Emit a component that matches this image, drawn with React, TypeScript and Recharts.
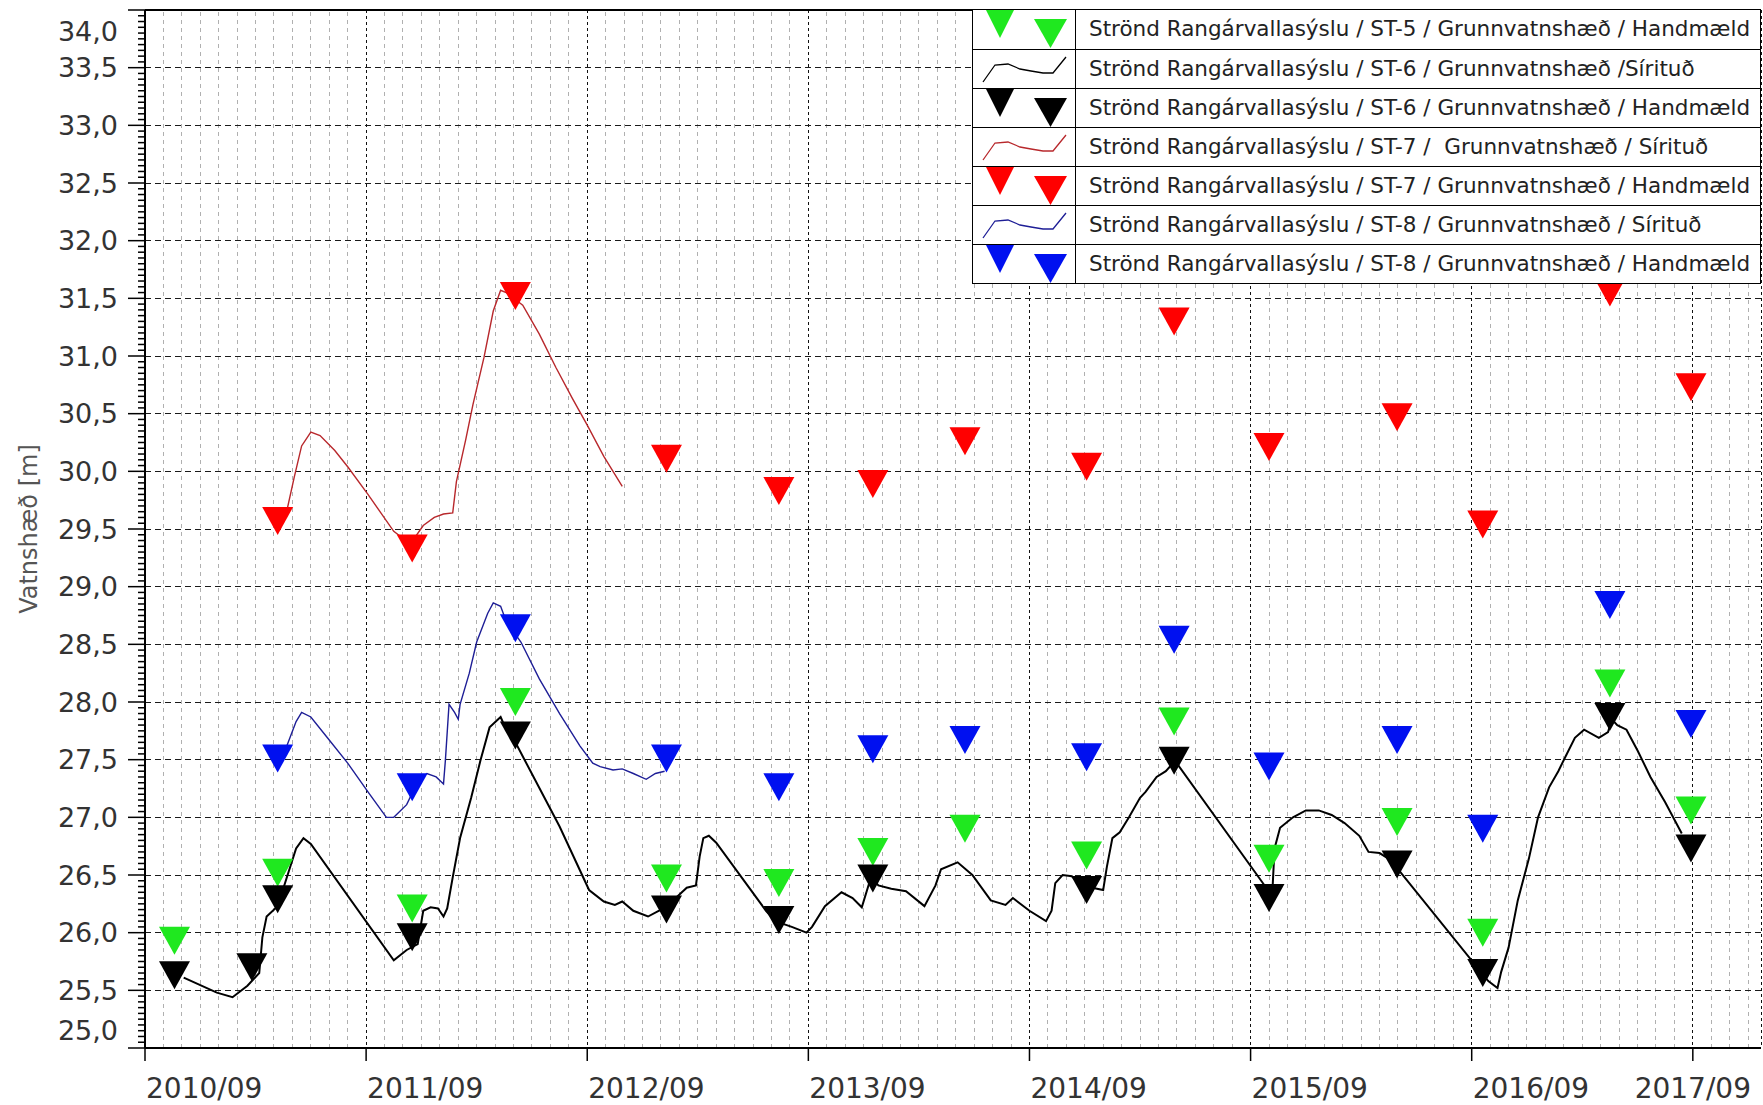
import React from "react"
import {
  ComposedChart,
  Line,
  Scatter,
  XAxis,
  YAxis,
  CartesianGrid,
  ReferenceLine,
  Legend,
} from "recharts"

// x values are months counted from 2010/09
const xTicks = [0, 12, 24, 36, 48, 60, 72, 84]
const xTickLabels = ["2010/09", "2011/09", "2012/09", "2013/09", "2014/09", "2015/09", "2016/09", "2017/09"]
const yMajor = [25, 25.5, 26, 26.5, 27, 27.5, 28, 28.5, 29, 29.5, 30, 30.5, 31, 31.5, 32, 32.5, 33, 33.5, 34]

// Sírituð (logger) series: [month, level]
const st6Logger: [number, number][] = [
  [2.1, 25.61], [3.9, 25.48], [4.75, 25.44], [5.56, 25.54], [6.2, 25.65], [6.37, 25.96],
  [6.6, 26.14], [7.2, 26.23], [7.7, 26.48], [8.2, 26.73], [8.6, 26.82], [9.0, 26.77],
  [13.5, 25.76], [14.2, 25.85], [14.8, 25.9], [15.1, 26.19], [15.5, 26.22], [15.9, 26.21],
  [16.2, 26.14], [16.4, 26.21], [16.7, 26.48], [17.1, 26.82], [17.7, 27.17], [18.2, 27.49],
  [18.7, 27.78], [19.3, 27.87], [19.6, 27.76], [20.2, 27.62], [22.5, 26.92], [24.1, 26.37],
  [24.9, 26.27], [25.5, 26.24], [25.9, 26.27], [26.5, 26.19], [27.3, 26.14], [27.9, 26.19],
  [28.6, 26.27], [29.4, 26.39], [29.9, 26.41], [30.1, 26.66], [30.3, 26.82], [30.6, 26.84],
  [31.0, 26.78], [33.7, 26.19], [34.2, 26.1], [35.1, 26.05], [35.9, 26.0], [36.2, 26.05],
  [36.9, 26.23], [37.8, 26.35], [38.4, 26.3], [38.9, 26.22], [39.4, 26.48], [39.8, 26.41],
  [40.5, 26.38], [41.3, 26.36], [42.3, 26.23], [42.9, 26.41], [43.2, 26.55], [44.1, 26.61],
  [44.9, 26.5], [45.9, 26.28], [46.7, 26.24], [47.1, 26.3], [48.0, 26.19], [48.9, 26.1],
  [49.2, 26.19], [49.4, 26.43], [49.8, 26.5], [50.3, 26.49], [50.7, 26.43], [51.4, 26.39],
  [52.0, 26.37], [52.2, 26.57], [52.5, 26.82], [52.9, 26.87], [53.4, 27.0], [54.0, 27.17],
  [54.3, 27.22], [54.9, 27.35], [55.4, 27.4], [55.9, 27.49], [60.8, 26.4], [61.2, 26.41],
  [61.3, 26.73], [61.6, 26.91], [62.3, 27.0], [63.0, 27.06], [63.7, 27.06], [64.4, 27.02],
  [65.1, 26.95], [65.9, 26.84], [66.4, 26.7], [67.0, 26.69], [67.5, 26.64], [67.9, 26.57],
  [72.9, 25.58], [73.4, 25.52], [73.6, 25.66], [74.0, 25.87], [74.5, 26.28], [75.1, 26.64],
  [75.6, 27.0], [76.2, 27.26], [76.7, 27.4], [77.1, 27.53], [77.6, 27.69], [78.1, 27.76],
  [78.9, 27.69], [79.4, 27.74], [79.6, 27.85], [79.9, 27.8], [80.4, 27.76], [81.0, 27.58],
  [81.7, 27.35], [82.5, 27.13], [83.4, 26.86],
]

const st7Logger: [number, number][] = [
  [7.7, 29.66], [8.1, 29.95], [8.5, 30.22], [9.0, 30.34], [9.5, 30.31], [10.3, 30.18],
  [11.0, 30.04], [12.1, 29.8], [12.8, 29.64], [13.5, 29.48], [14.4, 29.37], [15.1, 29.53],
  [15.7, 29.6], [16.2, 29.63], [16.7, 29.64], [16.9, 29.91], [17.4, 30.27], [17.8, 30.58],
  [18.4, 30.99], [18.9, 31.39], [19.3, 31.57], [19.6, 31.55], [20.5, 31.44], [21.4, 31.19],
  [22.3, 30.9], [23.2, 30.63], [24.0, 30.4], [24.9, 30.13], [25.9, 29.87],
]

const st8Logger: [number, number][] = [
  [7.7, 27.62], [8.2, 27.83], [8.5, 27.91], [9.0, 27.87], [9.9, 27.69], [11.0, 27.47],
  [12.1, 27.22], [13.1, 27.0], [13.5, 27.0], [14.2, 27.11], [14.8, 27.31], [15.3, 27.38],
  [15.8, 27.35], [16.2, 27.29], [16.3, 27.49], [16.5, 27.98], [16.8, 27.91], [17.0, 27.85],
  [17.1, 27.98], [17.6, 28.25], [18.0, 28.52], [18.6, 28.77], [18.9, 28.86], [19.3, 28.83],
  [19.6, 28.7], [20.4, 28.52], [21.4, 28.2], [22.5, 27.9], [23.6, 27.62], [24.3, 27.47],
  [24.7, 27.44], [25.4, 27.41], [25.9, 27.42], [26.5, 27.38], [27.2, 27.33], [27.7, 27.38],
  [28.2, 27.4],
]

// Handmæld (manual) series: [month, level]
const st5Manual: [number, number][] = [
  [1.6, 25.93], [7.2, 26.52], [14.5, 26.21], [20.1, 28.0], [28.3, 26.47], [34.4, 26.43],
  [39.5, 26.7], [44.5, 26.9], [51.1, 26.67], [55.85, 27.83], [61.0, 26.64], [67.95, 26.96],
  [72.6, 26.0], [79.5, 28.16], [83.9, 27.06],
]
const st6Manual: [number, number][] = [
  [1.6, 25.63], [5.8, 25.7], [7.2, 26.29], [14.5, 25.96], [20.1, 27.71], [28.3, 26.2],
  [34.4, 26.11], [39.5, 26.47], [51.1, 26.37], [55.85, 27.49], [61.0, 26.3], [67.95, 26.59],
  [72.6, 25.65], [79.5, 27.87], [83.9, 26.73],
]
const st7Manual: [number, number][] = [
  [7.2, 29.57], [14.5, 29.33], [20.1, 31.52], [28.3, 30.11], [34.4, 29.83], [39.5, 29.89],
  [44.5, 30.26], [51.1, 30.04], [55.85, 31.3], [61.0, 30.21], [67.95, 30.47], [72.6, 29.54],
  [79.5, 31.55], [83.9, 30.73],
]
const st8Manual: [number, number][] = [
  [7.2, 27.51], [14.5, 27.26], [20.1, 28.64], [28.3, 27.51], [34.4, 27.26], [39.5, 27.59],
  [44.5, 27.67], [51.1, 27.52], [55.85, 28.54], [61.0, 27.44], [67.95, 27.67], [72.6, 26.9],
  [79.5, 28.84], [83.9, 27.81],
]

const GREEN = "#1FE81F"
const BLACK = "#000000"
const RED = "#FF0000"
const BLUE = "#0010F0"
const RED_LINE = "#B8282C"
const BLUE_LINE = "#1E1E96"
const FONT = "'DejaVu Sans', Verdana, sans-serif"

const legendRows = [
  { label: "Strönd Rangárvallasýslu / ST-5 / Grunnvatnshæð / Handmæld", kind: "tri", color: GREEN },
  { label: "Strönd Rangárvallasýslu / ST-6 / Grunnvatnshæð /Sírituð", kind: "line", color: BLACK },
  { label: "Strönd Rangárvallasýslu / ST-6 / Grunnvatnshæð / Handmæld", kind: "tri", color: BLACK },
  { label: "Strönd Rangárvallasýslu / ST-7 /  Grunnvatnshæð / Sírituð", kind: "line", color: RED_LINE },
  { label: "Strönd Rangárvallasýslu / ST-7 / Grunnvatnshæð / Handmæld", kind: "tri", color: RED },
  { label: "Strönd Rangárvallasýslu / ST-8 / Grunnvatnshæð / Sírituð", kind: "line", color: BLUE_LINE },
  { label: "Strönd Rangárvallasýslu / ST-8 / Grunnvatnshæð / Handmæld", kind: "tri", color: BLUE },
]

const toRows = (arr: [number, number][]) => arr.map(([m, v]) => ({ m, v }))

// axis helpers (tick positions, not data)
const yTicks = Array.from({ length: 181 }, (_, i) => Number((25 + i * 0.05).toFixed(2)))
const monthLines = Array.from({ length: 87 }, (_, i) => i + 1).filter((m) => m % 12 !== 0)

function YTick({ x, y, payload }: any) {
  const v = payload.value as number
  const major = Math.abs(v * 2 - Math.round(v * 2)) < 1e-6
  if (!major) {
    return <line x1={x - 7} x2={x} y1={y} y2={y} stroke="#000" strokeWidth={1.5} />
  }
  let dy = 0
  if (v >= 34) dy = 21
  if (v <= 25) dy = -18
  return (
    <g>
      <line x1={x - 17} x2={x} y1={y} y2={y} stroke="#000" strokeWidth={1.5} />
      <text
        x={x - 27}
        y={y + dy}
        dy="0.36em"
        textAnchor="end"
        fontSize={27}
        fontFamily={FONT}
        fill="#333"
      >
        {v.toFixed(1).replace(".", ",")}
      </text>
    </g>
  )
}

function XTick({ x, y, payload }: any) {
  const i = xTicks.indexOf(payload.value)
  const last = i === xTicks.length - 1
  return (
    <g>
      <line x1={x} x2={x} y1={y} y2={y + 13} stroke="#000" strokeWidth={1.5} />
      <text
        x={last ? x : x + 1}
        y={y + 50}
        textAnchor={last ? "middle" : "start"}
        fontSize={28}
        fontFamily={FONT}
        fill="#333"
      >
        {xTickLabels[i]}
      </text>
    </g>
  )
}

const triangle = (fill: string) => (props: any) => {
  const { cx, cy } = props
  if (cx == null || cy == null) return <g />
  const w = 31
  const h = 28
  return (
    <polygon
      points={`${cx - w / 2},${cy - h / 2} ${cx + w / 2},${cy - h / 2} ${cx},${cy + h / 2}`}
      fill={fill}
    />
  )
}

function LegendBox() {
  return (
    <div
      style={{
        width: 789,
        border: "1.5px solid #000",
        background: "#fff",
        boxSizing: "border-box",
        fontFamily: FONT,
      }}
    >
      {legendRows.map((r, i) => (
        <div
          key={r.label}
          style={{
            display: "flex",
            height: 39,
            borderTop: i ? "1.5px solid #000" : "none",
            boxSizing: "border-box",
          }}
        >
          <div style={{ width: 102, borderRight: "1.5px solid #000", flex: "none" }}>
            <svg width={102} height={38} style={{ display: "block" }}>
              {r.kind === "tri" ? (
                <g fill={r.color}>
                  <polygon points="13,0 41,0 27,28" />
                  <polygon points="61,9 94,9 77.5,38" />
                </g>
              ) : (
                <polyline
                  points="10,32 22,15 35,14 47,19 58,21 70,23 80,23 93,7"
                  fill="none"
                  stroke={r.color}
                  strokeWidth={1.3}
                />
              )}
            </svg>
          </div>
          <div
            style={{
              paddingLeft: 13,
              fontSize: 21.5,
              lineHeight: "37px",
              color: "#222",
              whiteSpace: "pre",
            }}
          >
            {r.label}
          </div>
        </div>
      ))}
    </div>
  )
}

export default function App() {
  return (
    <div style={{ position: "absolute", left: 0, top: 0, background: "#fff" }}>
      <ComposedChart width={1763} height={1105} margin={{ top: 10, right: 2, bottom: 0, left: 0 }}>
        {monthLines.map((m) => (
          <ReferenceLine
            key={`m${m}`}
            x={m}
            stroke="#b0b0b0"
            strokeDasharray="4 4"
            strokeWidth={1}
            shapeRendering="crispEdges"
          />
        ))}
        <CartesianGrid horizontal={false} stroke="#111" strokeDasharray="3 3" shapeRendering="crispEdges" />
        {yMajor.slice(1, -1).map((v) => (
          <ReferenceLine
            key={`h${v}`}
            y={v}
            stroke="#1a1a1a"
            strokeDasharray="6 4"
            strokeWidth={1}
            shapeRendering="crispEdges"
          />
        ))}
        <ReferenceLine y={34} stroke="#000" strokeWidth={2} />
        <XAxis
          type="number"
          dataKey="m"
          domain={[0, 87.7]}
          allowDataOverflow
          ticks={xTicks}
          interval={0}
          tick={<XTick />}
          tickLine={false}
          tickSize={0}
          tickMargin={0}
          height={57}
          axisLine={{ stroke: "#000", strokeWidth: 2 }}
        />
        <YAxis
          type="number"
          dataKey="v"
          domain={[25, 34]}
          allowDataOverflow
          ticks={yTicks}
          interval={0}
          tick={<YTick />}
          tickLine={false}
          tickSize={0}
          tickMargin={0}
          width={145}
          axisLine={{ stroke: "#000", strokeWidth: 2 }}
          label={{
            value: "Vatnshæð [m]",
            angle: -90,
            position: "insideLeft",
            offset: 28,
            style: { textAnchor: "middle", fontSize: 24, fill: "#555", fontFamily: FONT },
          }}
        />
        <Legend
          content={<LegendBox />}
          layout="horizontal"
          verticalAlign="middle"
          align="center"
          wrapperStyle={{ left: 972, top: 9, width: 789, height: 274 }}
        />
        <Line
          data={toRows(st6Logger)}
          dataKey="v"
          type="linear"
          stroke={BLACK}
          strokeWidth={2}
          dot={false}
          activeDot={false}
          isAnimationActive={false}
        />
        <Line
          data={toRows(st7Logger)}
          dataKey="v"
          type="linear"
          stroke={RED_LINE}
          strokeWidth={1.4}
          dot={false}
          activeDot={false}
          isAnimationActive={false}
        />
        <Line
          data={toRows(st8Logger)}
          dataKey="v"
          type="linear"
          stroke={BLUE_LINE}
          strokeWidth={1.4}
          dot={false}
          activeDot={false}
          isAnimationActive={false}
        />
        <Scatter data={toRows(st5Manual)} dataKey="v" shape={triangle(GREEN)} isAnimationActive={false} />
        <Scatter data={toRows(st6Manual)} dataKey="v" shape={triangle(BLACK)} isAnimationActive={false} />
        <Scatter data={toRows(st7Manual)} dataKey="v" shape={triangle(RED)} isAnimationActive={false} />
        <Scatter data={toRows(st8Manual)} dataKey="v" shape={triangle(BLUE)} isAnimationActive={false} />
      </ComposedChart>
    </div>
  )
}
